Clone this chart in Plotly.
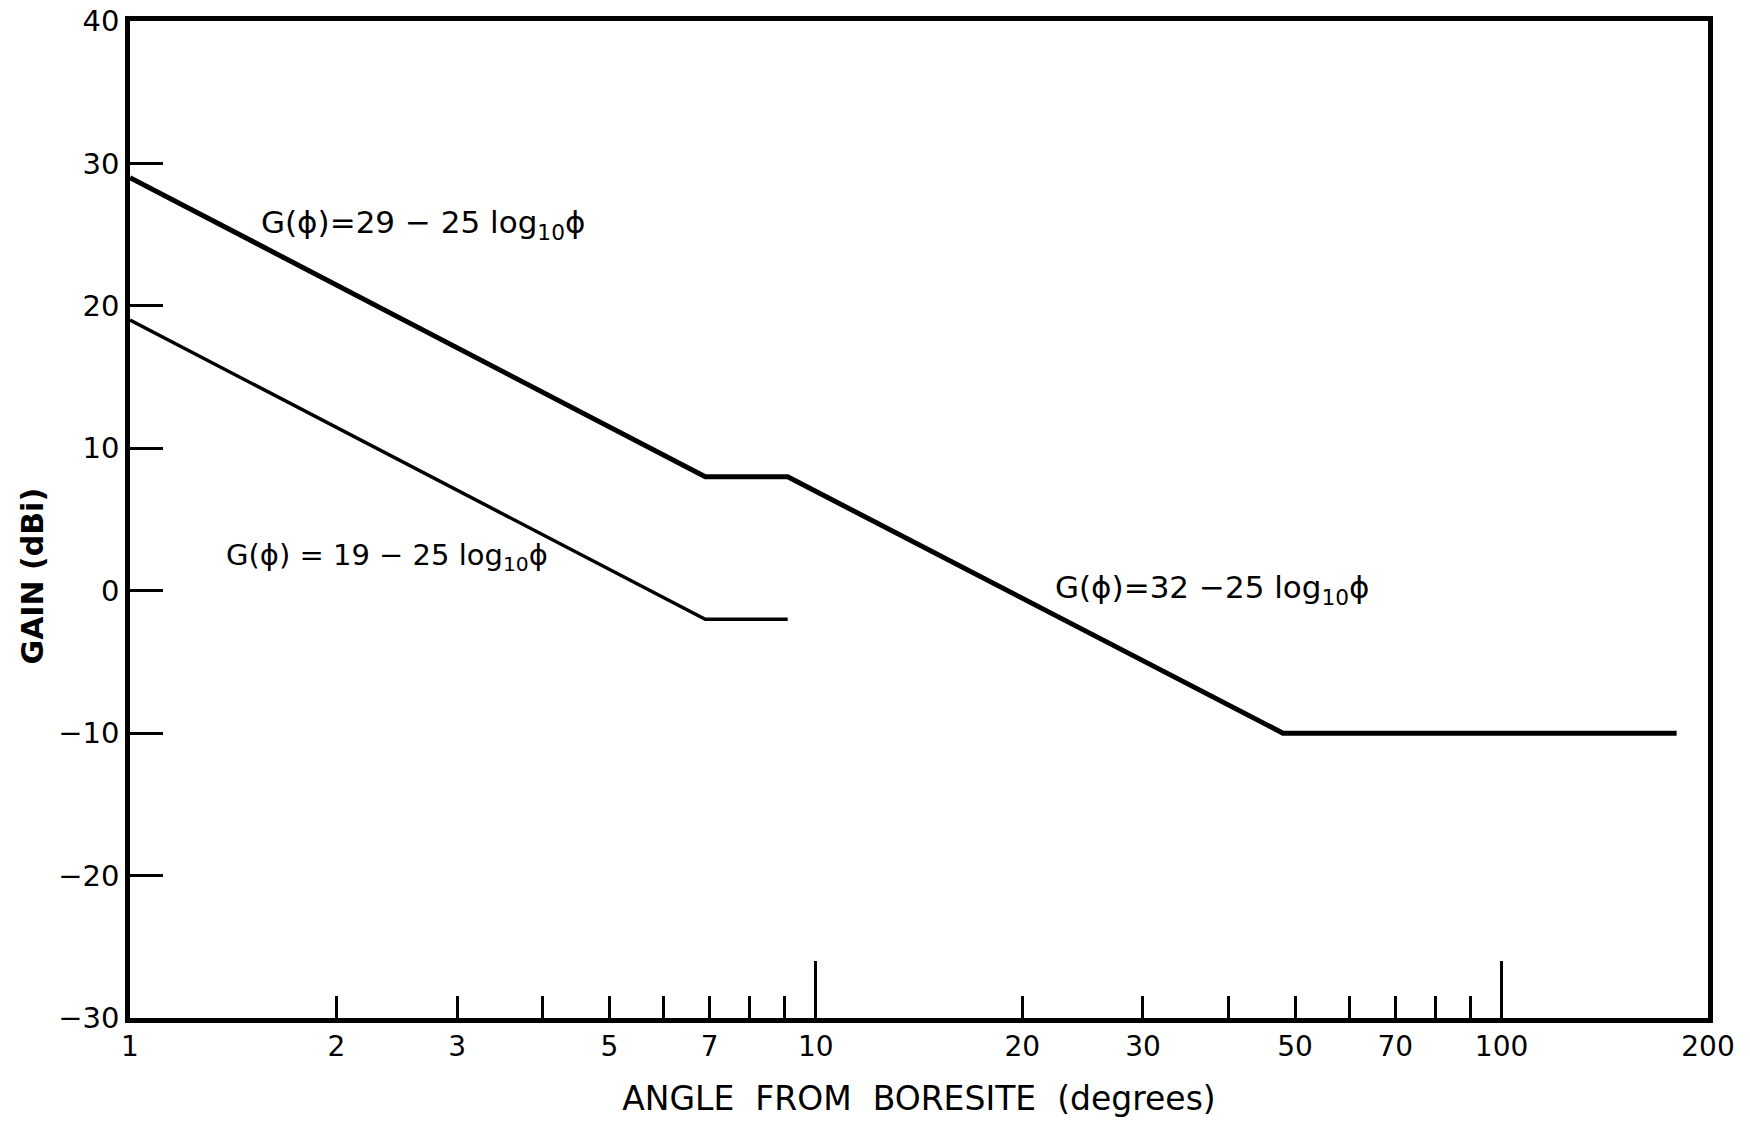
import math
import plotly.graph_objects as go

# Data
upper_angle = [1, 6.9, 9.1, 48, 180]
upper_gain = [29, 8, 8, -10, -10]
lower_angle = [1, 6.9, 9.1]
lower_gain = [19, -2, -2]

x_tick_vals = [1, 2, 3, 4, 5, 6, 7, 8, 9, 10, 20, 30, 40, 50, 60, 70, 80, 90, 100, 200]
x_tick_text = ["1", "2", "3", "", "5", "", "7", "", "", "10", "20", "30", "", "50", "", "70", "", "", "100", "200"]
x_long_ticks = [10, 100]
y_tick_vals = [-30, -20, -10, 0, 10, 20, 30, 40]
y_tick_text = ["\u221230", "\u221220", "\u221210", "0", "10", "20", "30", "40"]

labels = [
    "G(\u03d5)=29 \u2212 25 log<sub>10</sub>\u03d5",
    "G(\u03d5) = 19 \u2212 25 log<sub>10</sub>\u03d5",
    "G(\u03d5)=32 \u221225 log<sub>10</sub>\u03d5",
]
label_sizes = [31, 29, 31]
# label anchor positions (angle in degrees, gain in dBi)
label_angle = [1.54, 1.37, 22.2]
label_gain = [25.7, 2.4, 0.1]

FONT = "DejaVu Sans"

fig = go.Figure()
fig.add_trace(go.Scatter(x=upper_angle, y=upper_gain, mode="lines",
                         line=dict(color="black", width=5), showlegend=False))
fig.add_trace(go.Scatter(x=lower_angle, y=lower_gain, mode="lines",
                         line=dict(color="black", width=3.5), showlegend=False))
# invisible trace for the overlay axis carrying the long decade ticks
fig.add_trace(go.Scatter(x=[1, 200], y=[-30, -30], xaxis="x2", mode="lines",
                         line=dict(width=0), hoverinfo="skip", showlegend=False))

fig.update_layout(
    width=1750, height=1122,
    margin=dict(l=130, r=42, t=21, b=104, autoexpand=False),
    paper_bgcolor="white", plot_bgcolor="white",
    font=dict(family=FONT, color="black", size=28),
    xaxis=dict(
        type="log", range=[0, math.log10(200)], automargin=False,
        tickvals=x_tick_vals, ticktext=x_tick_text,
        ticks="inside", ticklen=22, tickwidth=2.5, tickcolor="black",
        showline=True, linewidth=4.5, linecolor="black", mirror=True,
        showgrid=False, zeroline=False, ticklabeloverflow="allow",
        tickfont=dict(size=28, family=FONT),
        title=dict(text="ANGLE  FROM  BORESITE  (degrees)",
                   font=dict(size=33, family=FONT), standoff=26),
    ),
    xaxis2=dict(
        type="log", range=[0, math.log10(200)], overlaying="x", anchor="y", side="bottom",
        tickvals=x_long_ticks, ticks="inside", ticklen=57, tickwidth=3,
        tickcolor="black", showticklabels=False, showgrid=False, zeroline=False,
        showline=False, automargin=False,
    ),
    yaxis=dict(
        range=[-30, 40], automargin=False,
        tickvals=y_tick_vals, ticktext=y_tick_text,
        ticks="inside", ticklen=33, tickwidth=2.5, tickcolor="black",
        showline=True, linewidth=4.5, linecolor="black", mirror=True,
        showgrid=False, zeroline=False, ticklabeloverflow="allow",
        tickfont=dict(size=29, family=FONT),
    ),
)

fig.add_annotation(text="<b>GAIN (dBi)</b>", xref="paper", yref="paper",
                   x=-0.062, y=0.443, textangle=-90, showarrow=False,
                   xanchor="center", yanchor="middle",
                   font=dict(size=30, family=FONT))

for txt, ax, ay, sz in zip(labels, label_angle, label_gain, label_sizes):
    fig.add_annotation(text=txt, xref="x", yref="y", x=math.log10(ax), y=ay,
                       xanchor="left", yanchor="middle", showarrow=False,
                       font=dict(size=sz, family=FONT))

fig.write_html("out.html")
